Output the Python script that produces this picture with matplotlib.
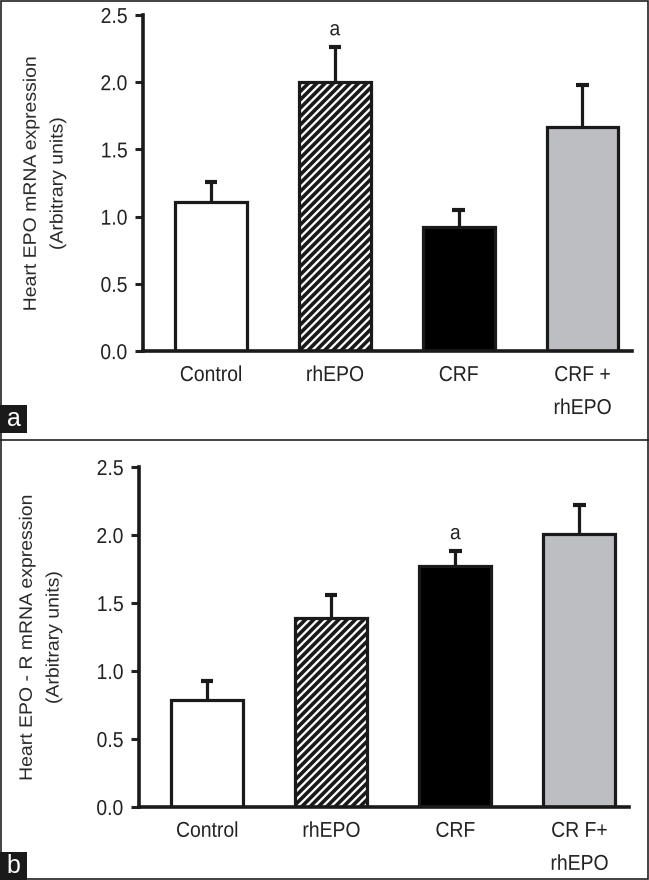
import matplotlib
matplotlib.use("Agg")
import matplotlib.pyplot as plt
from matplotlib.patches import Rectangle
from matplotlib.lines import Line2D
from matplotlib.transforms import Affine2D
from matplotlib import patheffects

plt.rcParams['font.family'] = ['Liberation Sans', 'DejaVu Sans']
plt.rcParams['hatch.linewidth'] = 2.6

# data
groups_a = ["Control", "rhEPO", "CRF", "CRF +\nrhEPO"]
groups_b = ["Control", "rhEPO", "CRF", "CR F+\nrhEPO"]
epo_mean = [1.11, 2.00, 0.92, 1.67]
epo_err = [0.15, 0.26, 0.13, 0.31]
epor_mean = [0.79, 1.39, 1.77, 2.01]
epor_err = [0.14, 0.17, 0.11, 0.21]
sig_a = 1   # index of bar marked "a"
sig_b = 2
ylabel_a = "Heart EPO mRNA expression\n(Arbitrary units)"
ylabel_b = "Heart EPO - R mRNA expression\n(Arbitrary units)"

faces = ["white", "white", "black", "#bdbec2"]
hatches = [None, "////", None, None]
INK = "#1a1a1a"


class Squash(patheffects.AbstractPathEffect):
    # the scan is a bit squeezed sideways, so squeeze glyphs around their centre
    def __init__(self, sx=1.0, sy=1.0):
        super().__init__()
        self.sx, self.sy = sx, sy

    def draw_path(self, renderer, gc, tpath, affine, rgbFace=None):
        v = tpath.vertices
        if len(v):
            cx = (v[:, 0].min() + v[:, 0].max()) / 2
            cy = (v[:, 1].min() + v[:, 1].max()) / 2
        else:
            cx = cy = 0
        t = Affine2D().translate(-cx, -cy).scale(self.sx, self.sy).translate(cx, cy) + affine
        renderer.draw_path(gc, tpath, t, rgbFace)


def draw_panel(ax, labels, means, errs, sig, ylabel):
    x = list(range(len(means)))
    tops = [m + e for m, e in zip(means, errs)]
    # upper half error bars only
    ax.vlines(x, means, tops, color=INK, linewidth=2.3, zorder=1)
    ax.hlines(tops, [i - 0.05 for i in x], [i + 0.05 for i in x], color=INK,
              linewidth=3.0, zorder=1)
    for i in x:
        ax.bar(i, means[i], width=0.58, color=faces[i], edgecolor=INK,
               linewidth=2.3, hatch=hatches[i], zorder=2)
    t = ax.text(sig, tops[sig] + 0.13, "a", ha="center", va="center",
                fontsize=15, color="#222222")
    t.set_path_effects([Squash(0.92, 1)])
    ax.set_xlim(-0.55, 3.40)
    ax.set_ylim(0, 2.5)
    ax.set_yticks([0, 0.5, 1.0, 1.5, 2.0, 2.5])
    ax.set_yticklabels(["0.0", "0.5", "1.0", "1.5", "2.0", "2.5"])
    ax.set_xticks(x)
    ax.set_xticklabels(labels, linespacing=1.75)
    ax.tick_params(axis="x", length=0, pad=10, labelsize=15.5, colors="#222222")
    ax.tick_params(axis="y", length=6, width=2.2, labelsize=15.5, colors="#222222", pad=4)
    for lbl in ax.get_xticklabels() + ax.get_yticklabels():
        lbl.set_path_effects([Squash(0.9, 1)])
    for s in ["top", "right"]:
        ax.spines[s].set_visible(False)
    for s in ["left", "bottom"]:
        ax.spines[s].set_linewidth(2.6)
        ax.spines[s].set_color(INK)
    yl = ax.set_ylabel(ylabel, fontsize=14, color="#2a2a2a", labelpad=23,
                       linespacing=1.75)
    yl.set_path_effects([Squash(1.0, 0.93)])


fig = plt.figure(figsize=(6.49, 8.80), dpi=100)
ax1 = fig.add_axes([0.2203, 0.601, 0.7535, 0.382])
ax2 = fig.add_axes([0.2142, 0.083, 0.755, 0.3863])
draw_panel(ax1, groups_a, epo_mean, epo_err, sig_a, ylabel_a)
draw_panel(ax2, groups_b, epor_mean, epor_err, sig_b, ylabel_b)

# panel frames and letter tags
fig.patches.append(Rectangle((0.001, 0.001), 0.997, 0.998, transform=fig.transFigure,
                             fill=False, edgecolor="#222222", linewidth=1.2))
fig.lines.append(Line2D([0, 1], [0.5, 0.5], transform=fig.transFigure,
                        color="#222222", linewidth=1.2))
for y0, tag in [(0.508, "a"), (0.0, "b")]:
    fig.patches.append(Rectangle((0, y0), 27 / 649, 28 / 880, transform=fig.transFigure,
                                 facecolor=INK, edgecolor="none"))
    fig.text(13.5 / 649, y0 + 14 / 880, tag, color="white", fontsize=18,
             ha="center", va="center")

fig.savefig("out.png", dpi=100)
